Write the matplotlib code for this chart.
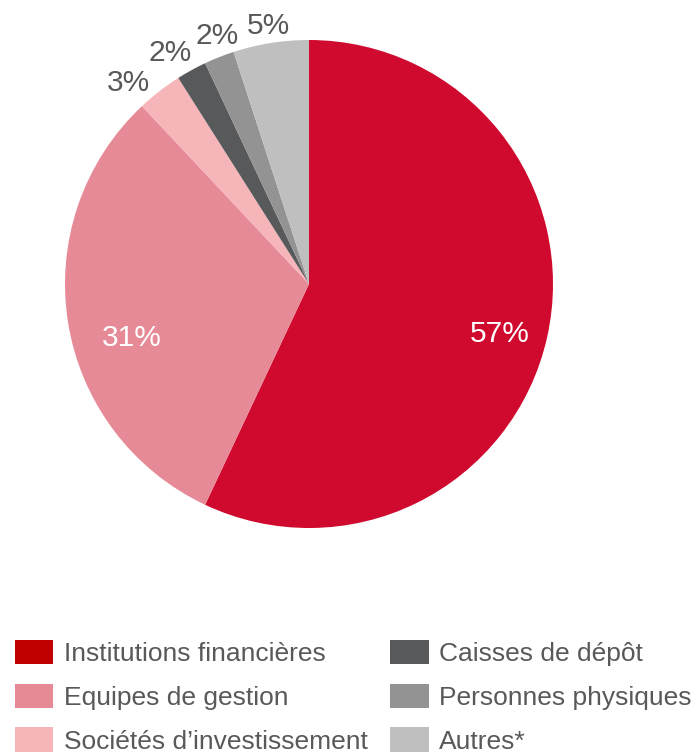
import matplotlib
matplotlib.use('Agg')
import matplotlib.pyplot as plt
from matplotlib.patches import Patch

plt.rcParams['font.family'] = ['Liberation Sans', 'DejaVu Sans']

# données
categories = ['Institutions financières', 'Equipes de gestion', 'Sociétés d\u2019investissement',
              'Caisses de dépôt', 'Personnes physiques', 'Autres*']
values = [57, 31, 3, 2, 2, 5]
pie_colors = ['#D00A2E', '#E78A97', '#F6B5B9', '#58595B', '#939393', '#BFBFBF']
legend_colors = ['#C00000', '#E68A96', '#F6B5B9', '#58595B', '#939393', '#BFBFBF']

# positions des étiquettes (coordonnées du camembert, rayon 1)
label_pos = [(0.78, -0.205), (-0.725, -0.22), (-0.738, 0.824),
             (-0.570, 0.947), (-0.377, 1.016), (-0.168, 1.057)]
label_col = ['white', 'white', '#595959', '#595959', '#595959', '#595959']

fig = plt.figure(figsize=(6.95, 7.55), dpi=100)
ax = fig.add_axes([65 / 695, 1 - 528 / 755, 488 / 695, 488 / 755])
ax.pie(values, colors=pie_colors, startangle=90, counterclock=False,
       radius=1, wedgeprops=dict(linewidth=0))
ax.set_xlim(-1, 1)
ax.set_ylim(-1, 1)
ax.set_aspect('equal')
ax.axis('off')

for v, (x, y), c in zip(values, label_pos, label_col):
    ax.text(x, y, f'{v}%', ha='center', va='center', fontsize=21.5, color=c, clip_on=False)

# légende (ncol=2 remplit colonne par colonne)
handles = [Patch(facecolor=legend_colors[i], edgecolor='none') for i in range(6)]
leg = fig.legend(handles, categories, ncol=2, loc='upper left',
                 bbox_to_anchor=(15 / 695, 1 - 640 / 755), frameon=False,
                 fontsize=19, handlelength=1.45, handleheight=1.05,
                 handletextpad=0.4, columnspacing=0.86, labelspacing=0.66,
                 borderpad=0, borderaxespad=0)
for t in leg.get_texts():
    t.set_color('#595959')

plt.savefig('out.png', dpi=100)
plt.close()
